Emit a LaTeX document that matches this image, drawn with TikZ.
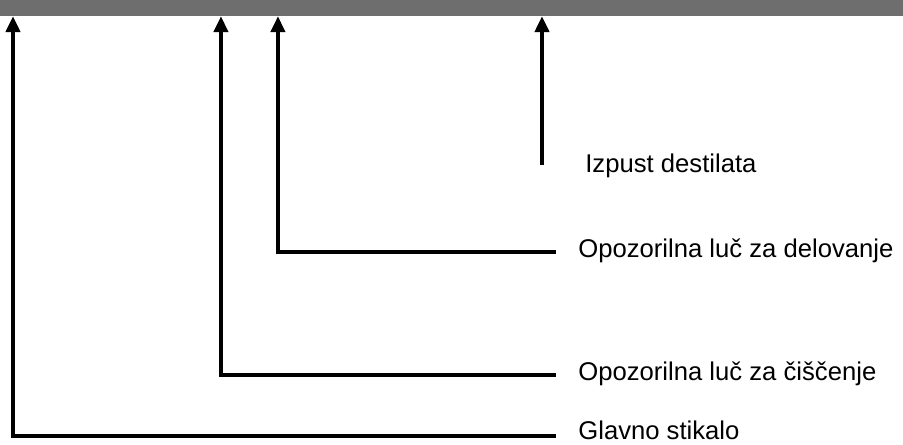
\documentclass[tikz,border=0pt]{standalone}
\usepackage{fontspec}
\setmainfont{Liberation Sans}
\usetikzlibrary{arrows.meta,positioning}
\definecolor{panelgray}{RGB}{110,110,110}

\begin{document}
\begin{tikzpicture}[x=0.02cm, y=-0.02cm,
    label/.style={anchor=west, inner sep=0pt, font=\fontsize{14.6}{16}\selectfont},
    wire/.style={line width=2.1pt},
    arrow/.style={wire, -{Triangle[length=9pt, width=8pt]}}
]
    \useasboundingbox (0,0) rectangle (903,445);
    % top panel
    \node[fill=panelgray, inner sep=0pt, minimum width=18.06cm, minimum height=0.31cm, anchor=north west] (panel) at (0,0) {};

    \node[label] (izpust) at (585,166) {Izpust destilata};
    \node[label] (delo) at (578,251) {Opozorilna luč za delovanje};
    \node[label] (cisc) at (578,374) {Opozorilna luč za čiščenje};
    \node[label] (glavno) at (578,430) {Glavno stikalo};

    \coordinate (izpustend) at (542,165);
    \coordinate (deloend) at (556,252);
    \coordinate (ciscend) at (556,375);
    \coordinate (glavnoend) at (556,436);

    \draw[arrow] (izpustend) -- (izpustend |- panel.south);
    \draw[arrow] (deloend) -| ([xshift=5.56cm]panel.south west);
    \draw[arrow] (ciscend) -| ([xshift=4.42cm]panel.south west);
    \draw[arrow] (glavnoend) -| ([xshift=0.26cm]panel.south west);
\end{tikzpicture}
\end{document}
